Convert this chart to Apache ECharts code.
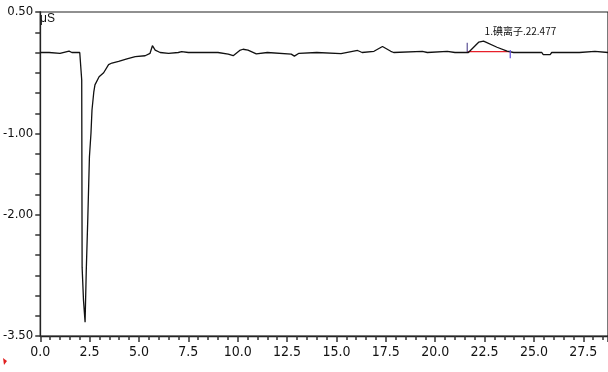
<!DOCTYPE html>
<html>
<head>
<meta charset="utf-8">
<script src="https://cdn.jsdelivr.net/npm/echarts@6/dist/echarts.min.js"></script>
<style>html,body{margin:0;padding:0;background:#fff}#c{width:608px;height:372px}</style>
</head>
<body>
<div id="c"></div>
<script>
// Retention time (min)
var times = [0.00, 0.30, 0.35, 0.45, 1.00, 1.46, 1.60, 2.00, 2.04, 2.10, 2.12, 2.19, 2.27, 2.33, 2.41, 2.49, 2.57, 2.62, 2.71, 2.77, 2.98, 3.21, 3.46, 3.63, 3.97, 4.39, 4.81, 5.31, 5.56, 5.68, 5.82, 6.07, 6.50, 6.99, 7.16, 7.50, 8.51, 9.00, 9.52, 9.77, 10.10, 10.27, 10.52, 10.94, 11.50, 12.71, 12.87, 13.10, 14.00, 14.05, 15.23, 16.07, 16.30, 16.90, 17.33, 17.75, 17.90, 19.35, 19.60, 20.61, 21.00, 21.68, 22.20, 22.45, 23.13, 23.64, 23.97, 24.05, 24.30, 25.40, 25.47, 25.82, 25.90, 27.00, 27.10, 27.30, 28.09, 28.75];
// Conductivity (uS)
var signal = [0.00, 0.00, -0.02, 0.00, -0.01, 0.016, 0.00, 0.00, -0.01, -0.34, -2.65, -3.06, -3.33, -2.69, -2.03, -1.29, -0.99, -0.71, -0.49, -0.40, -0.30, -0.25, -0.15, -0.13, -0.11, -0.08, -0.05, -0.04, -0.01, 0.084, 0.03, 0.00, -0.01, 0.00, 0.01, 0.00, 0.00, 0.00, -0.02, -0.04, 0.025, 0.04, 0.03, -0.016, 0.00, -0.02, -0.045, -0.01, 0.00, -0.015, -0.015, 0.025, 0.00, 0.015, 0.074, 0.015, 0.00, 0.015, 0.00, 0.015, 0.00, 0.00, 0.127, 0.14, 0.065, 0.016, 0.00, -0.02, 0.00, 0.00, -0.025, -0.025, 0.00, 0.00, -0.02, 0.00, 0.015, 0.00];
// Peak integration
var peakName = "1.碘离子.22.477";
var peakApex = [22.45, 0.14];
var peakBaseline = [[21.63, 0.012], [23.80, 0.012]];
var peakStartMark = [[21.62, 0.12], [21.62, 0.006]];
var peakEndMark = [[23.80, 0.03], [23.80, -0.07]];
var yLabels = [0.5, -1, -2, -3.5];
var unitLabel = "μS";

var chart = echarts.init(document.getElementById('c'));
var lineData = times.map(function (t, i) { return [t, signal[i]]; });
var axisFont = "'Liberation Sans Narrow', 'DejaVu Sans Condensed', 'Liberation Sans', sans-serif";

chart.setOption({
  animation: false,
  backgroundColor: '#fff',
  grid: {left: 38, right: -1, top: 12, bottom: 36, show: true, borderColor: '#222', borderWidth: 1.2, backgroundColor: 'transparent'},
  xAxis: {
    type: 'value', min: 0, max: 28.75, interval: 2.5,
    axisLine: {show: true, onZero: false, lineStyle: {color: '#222', width: 1.3}},
    axisTick: {show: true, length: 6, lineStyle: {color: '#333', width: 1.5}},
    minorTick: {show: true, splitNumber: 5, length: 4, lineStyle: {color: '#333', width: 1.5}},
    splitLine: {show: false},
    axisLabel: {show: true, margin: 9, fontSize: 14, color: '#111', fontFamily: axisFont,
      showMinLabel: true, showMaxLabel: false, formatter: function (v) { return v.toFixed(1); }}
  },
  yAxis: {
    type: 'value', min: -3.5, max: 0.5, interval: 0.25,
    axisLine: {show: true, onZero: false, lineStyle: {color: '#222', width: 1.3}},
    axisTick: {show: true, length: 5, lineStyle: {color: '#333', width: 1.5}},
    splitLine: {show: false},
    axisLabel: {show: true, margin: 7, fontSize: 13, color: '#111', fontFamily: axisFont,
      formatter: function (v) {
        for (var i = 0; i < yLabels.length; i++) {
          if (Math.abs(v - yLabels[i]) < 1e-6) return v.toFixed(2);
        }
        return '';
      }}
  },
  graphic: [
    {type: 'text', left: 40, top: 13, style: {text: unitLabel, fontSize: 12, fill: '#111', fontFamily: "'Liberation Sans', sans-serif"}},
    {type: 'polygon', shape: {points: [[3, 358], [7, 361], [4, 365]]}, style: {fill: '#e02020'}}
  ],
  series: [
    {
      type: 'line', data: lineData, symbol: 'none', smooth: false,
      lineStyle: {color: '#111', width: 1.3}, z: 3,
      markPoint: {
        symbol: 'circle', symbolSize: 0,
        data: [{coord: peakApex, value: peakName}],
        label: {show: true, position: [1, -15], formatter: function () { return peakName; },
          fontSize: 10, color: '#111', fontFamily: "'Noto Sans CJK SC', sans-serif"}
      }
    },
    {type: 'line', data: peakBaseline, symbol: 'none', lineStyle: {color: '#e8202a', width: 1.3}, z: 2},
    {type: 'line', data: peakStartMark, symbol: 'none', lineStyle: {color: '#3a2f80', width: 1}, z: 4},
    {type: 'line', data: peakEndMark, symbol: 'none', lineStyle: {color: '#6a5ae0', width: 1.3}, z: 4}
  ]
});
</script>
</body>
</html>
